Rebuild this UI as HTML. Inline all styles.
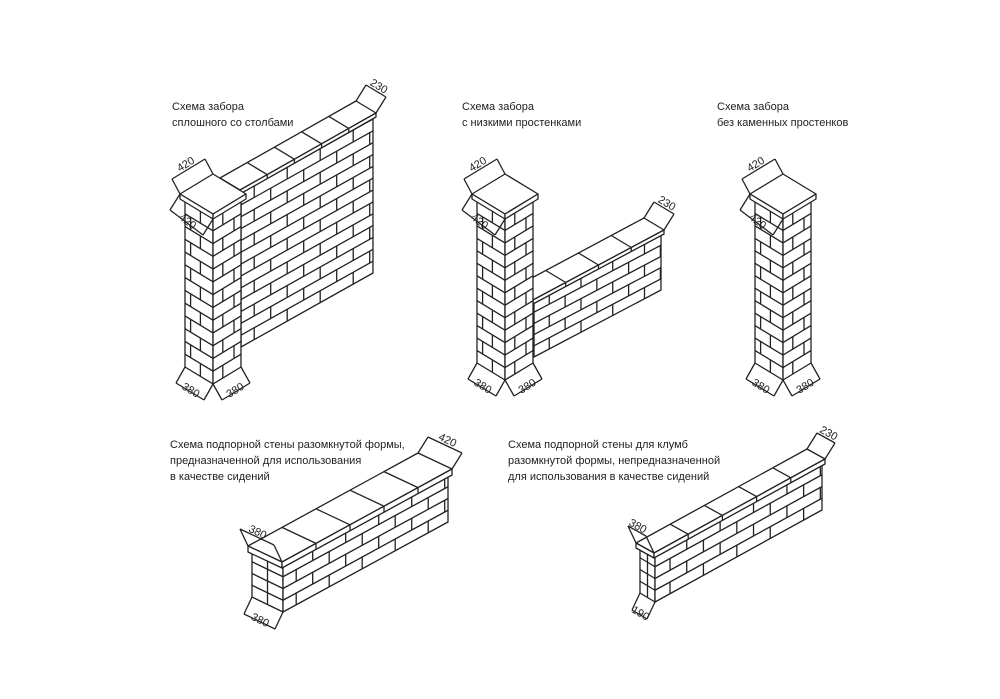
<!DOCTYPE html>
<html><head><meta charset="utf-8"><style>
html,body{margin:0;padding:0;background:#fff}
svg{display:block}
text{font-family:"Liberation Sans","DejaVu Sans",sans-serif;font-size:11px;fill:#222}
</style></head><body>
<svg id="s" width="1000" height="699" viewBox="0 0 1000 699" xmlns="http://www.w3.org/2000/svg">
<rect width="1000" height="699" fill="#fff"/>
<g id="g" stroke="#222" stroke-width="1.3" fill="none" stroke-linejoin="round"></g>
<text x="172" y="110">Схема забора</text>
<text x="172" y="126">сплошного со столбами</text>
<text x="462" y="110">Схема забора</text>
<text x="462" y="126">с низкими простенками</text>
<text x="717" y="110">Схема забора</text>
<text x="717" y="126">без каменных простенков</text>
<text x="170" y="448">Схема подпорной стены разомкнутой формы,</text>
<text x="170" y="464">предназначенной для использования</text>
<text x="170" y="480">в качестве сидений</text>
<text x="508" y="448">Схема подпорной стены для клумб</text>
<text x="508" y="464">разомкнутой формы, непредназначенной</text>
<text x="508" y="480">для использования в качестве сидений</text>
<g id="dt"></g>
</svg>
<script>
var g=document.getElementById('g'),dt=document.getElementById('dt');
var NS='http://www.w3.org/2000/svg';
function el(t,a,p){var e=document.createElementNS(NS,t);for(var k in a)e.setAttribute(k,a[k]);(p||g).appendChild(e);return e;}
function L(a,b){el('line',{x1:a[0],y1:a[1],x2:b[0],y2:b[1]});}
function poly(pts,fill){el('polygon',{points:pts.map(function(p){return p.join(',')}).join(' '),fill:fill||'#fff'});}
function add(a,b,k){k=k===undefined?1:k;return [a[0]+b[0]*k,a[1]+b[1]*k];}
function face(P,U,H,n,offs,bl){
 var h=H/n;
 poly([P,add(P,U),[P[0]+U[0],P[1]+U[1]-H],[P[0],P[1]-H]]);
 for(var i=1;i<n;i++)L([P[0],P[1]-h*i],[P[0]+U[0],P[1]+U[1]-h*i]);
 for(i=0;i<n;i++){var o=offs[i%offs.length];
  for(var t=o;t<0.999;t+=bl){if(t<0.02)continue;var q=add(P,U,t);L([q[0],q[1]-h*i],[q[0],q[1]-h*(i+1)]);}}
}
function cap(F,R,V,t,div){
 poly([F,add(F,R),add(add(F,R),V),add(F,V)]);
 poly([add(F,V),F,[F[0],F[1]+t],[F[0]+V[0],F[1]+V[1]+t]]);
 poly([F,add(F,R),[F[0]+R[0],F[1]+R[1]+t],[F[0],F[1]+t]]);
 for(var i=1;i<div;i++){var a=add(F,R,i/div);L(a,add(a,V));L(a,[a[0],a[1]+t]);}
}
function dim(p1,p2,off,label){
 var a=add(p1,off),b=add(p2,off);L(p1,a);L(p2,b);L(a,b);
 var ang=Math.atan2(b[1]-a[1],b[0]-a[0])*180/Math.PI;if(ang>90)ang-=180;if(ang<-90)ang+=180;
 var m=[(a[0]+b[0])/2,(a[1]+b[1])/2];var ol=Math.hypot(off[0],off[1]);
 var tx=m[0]+off[0]/ol*2,ty=m[1]+off[1]/ol*2;
 var e=el('text',{x:tx,y:ty,'text-anchor':'middle',transform:'rotate('+ang+' '+tx+' '+ty+')','font-size':'11'},dt);e.textContent=label;
}
function pillar(fx,fy,H,n){
 var w=28,d=17;
 face([fx-w,fy-d],[w,d],H,n,[0.55,0.2],1);
 face([fx,fy],[w,-d],H,n,[0.35,0.75],1);
 var top=fy-H;
 cap([fx,top-4],[w+5,-d-3],[-w-5,-d-3],5,1);
 dim([fx-w-5,top-4-d-3],[fx,top-4-2*d-6],[-8,-15],'420');
 dim([fx-w-5,top-4-d-3],[fx,top+1],[-10,16],'420');
 dim([fx-w,fy-d],[fx,fy],[-9,16],'380');
 dim([fx,fy],[fx+w,fy-d],[9,16],'380');
}
// Fence 1
face([241,347],[132,-74],154,13,[0.1,0.225],0.25);
cap([240,190],[136,-77],[-20,-12],4,5);
dim([376,113],[356,101],[10,-16],'230');
pillar(213,384,166,13);
// Fence 2
face([534,357],[127,-67],56,5,[0.12,0.245],0.25);
cap([533,300],[131,-70],[-20,-12],4,4);
dim([664,230],[644,218],[10,-16],'230');
pillar(505,380,162,13);
// Fence 3
pillar(783,380,162,13);
// Bottom left wall
face([252,597],[31,15],47,4,[0.5,0.5],1);
face([283,612],[165,-90],47,4,[0.08,0.18],0.2);
cap([282,562],[170,-93],[-34,-16],6,5);
dim([248,546],[282,562],[-8,-17],'380');
dim([452,469],[418,453],[10,-16],'420');
dim([252,597],[283,612],[-8,17],'380');
// Bottom right wall
face([640,593],[15,9],47,4,[0.5,0.5],1);
face([655,602],[167,-92],47,4,[0.09,0.19],0.2);
cap([654,553],[171,-94],[-18,-10],5,5);
dim([636,543],[654,553],[-8,-17],'380');
dim([825,459],[807,449],[10,-16],'230');
dim([640,593],[655,602],[-8,17],'190');
</script>
</body></html>
